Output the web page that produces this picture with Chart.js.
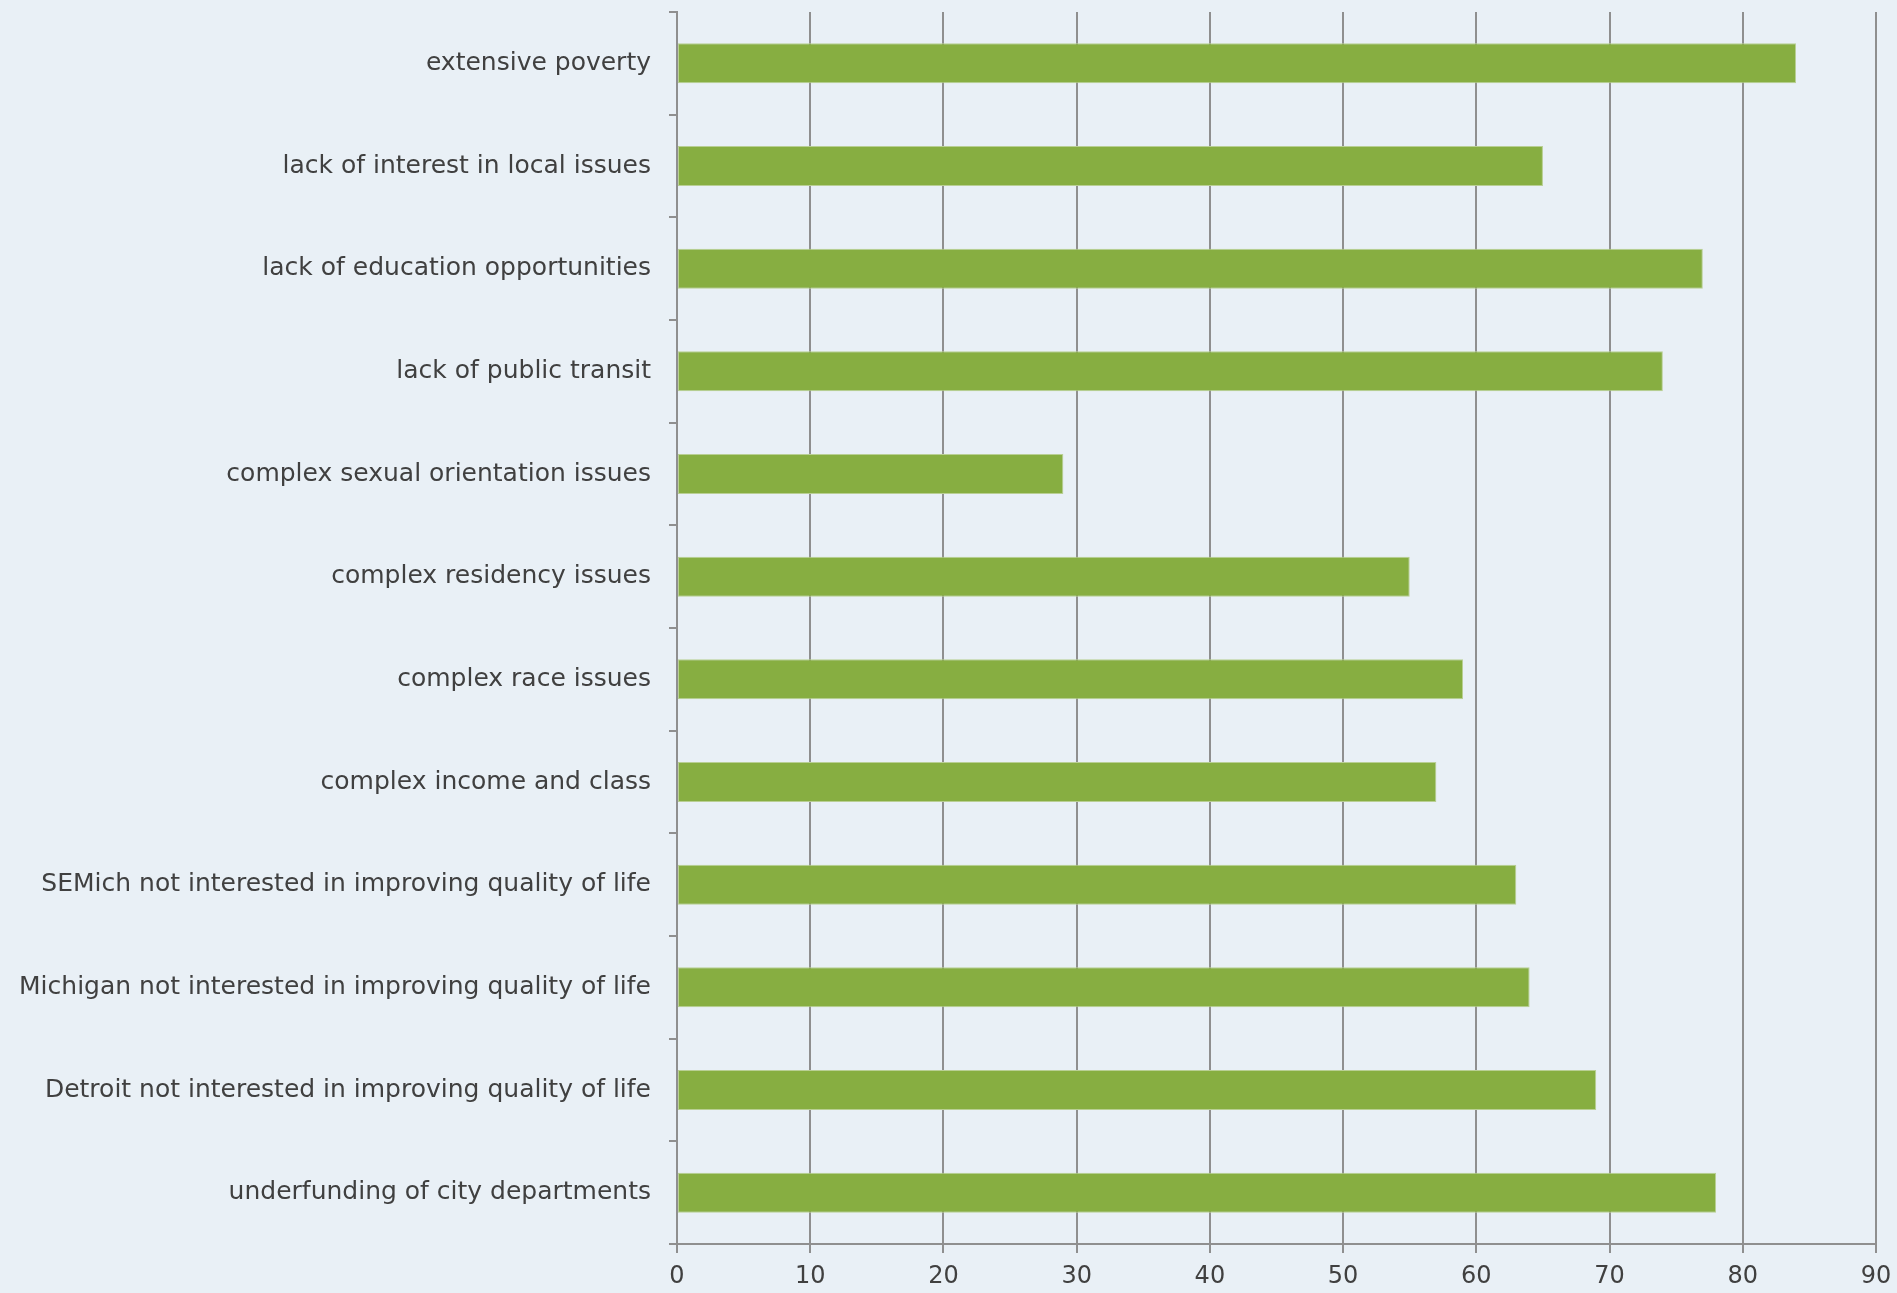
<!DOCTYPE html>
<html>
<head>
<meta charset="utf-8">
<script src="https://cdn.jsdelivr.net/npm/chart.js@4/dist/chart.umd.min.js"></script>
<style>
  html, body { margin: 0; padding: 0; background: #e9f0f6; }
  #wrap { width: 1897px; height: 1293px; position: relative; }
</style>
</head>
<body>
<div id="wrap"><canvas id="chart"></canvas></div>
<script>
const categories = [
    "extensive poverty",
    "lack of interest in local issues",
    "lack of education opportunities",
    "lack of public transit",
    "complex sexual orientation issues",
    "complex residency issues",
    "complex race issues",
    "complex income and class",
    "SEMich not interested in improving quality of life",
    "Michigan not interested in improving quality of life",
    "Detroit not interested in improving quality of life",
    "underfunding of city departments",
];
const values = [84, 65, 77, 74, 29, 55, 59, 57, 63, 64, 69, 78];
const xTicks = [0, 10, 20, 30, 40, 50, 60, 70, 80, 90];

const axisGrey = "#8f8f8f";
const textColor = "#404040";
const fontFamily = "'DejaVu Sans', sans-serif";

const ctx = document.getElementById("chart");

new Chart(ctx, {
    type: "bar",
    data: {
        labels: categories,
        datasets: [
            {
                label: "responses",
                data: values,
                backgroundColor: "#87ae41",
                borderColor: "#b9cf94",
                borderWidth: 1,
                borderSkipped: false,
                barPercentage: 0.39,
                categoryPercentage: 1,
            },
        ],
    },
    options: {
        indexAxis: "y",
        responsive: true,
        maintainAspectRatio: false,
        animation: false,
        layout: {
            padding: { top: 12, right: 21, bottom: 0, left: 0 },
        },
        plugins: {
            legend: { display: false },
            tooltip: { enabled: false },
        },
        scales: {
            x: {
                min: 0,
                max: 90,
                afterBuildTicks: (scale) => {
                    scale.ticks = xTicks.map((v) => ({ value: v }));
                },
                afterFit: (scale) => {
                    scale.height = 49;
                    scale.paddingLeft = 0;
                    scale.paddingRight = 0;
                },
                grid: {
                    color: axisGrey,
                    lineWidth: 2,
                    tickLength: 9,
                },
                border: { color: axisGrey, width: 2 },
                ticks: {
                    color: textColor,
                    font: { family: fontFamily, size: 24 },
                    padding: 9,
                    maxRotation: 0,
                },
            },
            y: {
                afterFit: (scale) => {
                    scale.width = 677;
                    scale.paddingTop = 0;
                    scale.paddingBottom = 0;
                },
                grid: {
                    offset: true,
                    drawOnChartArea: false,
                    color: axisGrey,
                    lineWidth: 2,
                    tickLength: 8,
                },
                border: { color: axisGrey, width: 2 },
                ticks: {
                    color: textColor,
                    font: { family: fontFamily, size: 25 },
                    padding: 18,
                },
            },
        },
    },
});
</script>
</body>
</html>
